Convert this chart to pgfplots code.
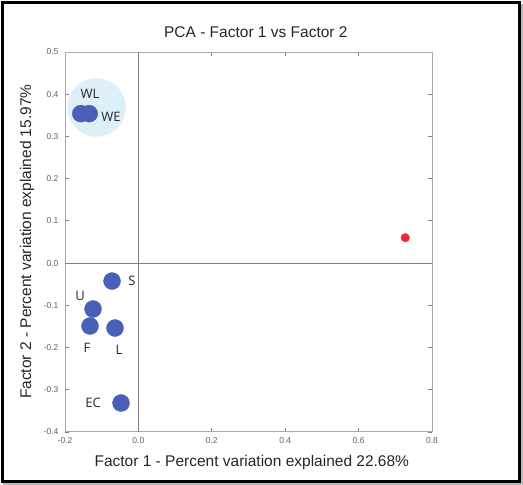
\documentclass[border=0pt]{standalone}
\usepackage{pgfplots}
\pgfplotsset{compat=1.18}
\usepackage{fontspec}
\setmainfont{Liberation Sans}
\newfontfamily\labfont{Open Sans}
\definecolor{dotblue}{HTML}{4A60B8}
\definecolor{halo}{HTML}{DDF0F8}
\definecolor{dotred}{HTML}{EE2A30}
\definecolor{axgray}{HTML}{AAAAAA}
\definecolor{zerogray}{HTML}{808080}
\definecolor{ticktext}{HTML}{606060}
\begin{document}
\begin{tikzpicture}[x=1pt,y=1pt]
\path[use as bounding box] (0,0) rectangle (523,485);
\fill[gray!55] (521,0) rectangle (523,481);
\fill[gray!55] (3,0) rectangle (523,1.8);
\draw[black, line width=3.2pt] (2.6,3.4) rectangle (519.8,482.4);
\begin{axis}[
  at={(65pt,53pt)}, anchor=south west,
  scale only axis, width=367pt, height=380pt,
  xmin=-0.2, xmax=0.8, ymin=-0.4, ymax=0.5,
  xtick={-0.2,0,0.2,0.4,0.6,0.8},
  ytick={-0.4,-0.3,-0.2,-0.1,0,0.1,0.2,0.3,0.4,0.5},
  tick align=inside, major tick length=4pt,
  tick style={zerogray, line width=0.8pt},
  axis line style={axgray, line width=1pt},
  ticklabel style={font=\fontsize{8.5}{9}\selectfont, text=ticktext},
  yticklabel style={xshift=-3pt},
  xticklabel style={yshift=-2pt},
  /pgf/number format/.cd, fixed, fixed zerofill, precision=1, assume math mode=true,
  /pgfplots/.cd,
  title={PCA - Factor 1 vs Factor 2},
  title style={at={(axis description cs:0.52,1.037)}, anchor=center, font=\fontsize{15.5}{18}\selectfont, text=black!85},
  xlabel={Factor 1 - Percent variation explained 22.68\%},
  xlabel style={at={(axis description cs:0.509,-0.079)}, anchor=center, font=\fontsize{15.5}{18}\selectfont, text=black!85},
  ylabel={Factor 2 - Percent variation explained 15.97\%},
  ylabel style={at={(axis description cs:-0.1035,0.501)}, anchor=center, font=\fontsize{15.5}{18}\selectfont, text=black!85},
  clip=false,
]
\addplot[only marks, mark=*, mark size=29pt, color=halo, mark options={solid, fill=halo, draw=halo}] coordinates {(-0.114,0.3686)};
\addplot[zerogray, line width=0.8pt] coordinates {(0,-0.4) (0,0.5)};
\addplot[zerogray, line width=0.8pt] coordinates {(-0.2,0) (0.8,0)};
\addplot[only marks, mark=*, mark size=8.5pt, color=dotblue, mark options={solid, fill=dotblue, draw=dotblue}] coordinates {
  (-0.157,0.354) (-0.134,0.354)
  (-0.0718,-0.0424) (-0.1236,-0.1087) (-0.1318,-0.1490)
  (-0.0637,-0.1537) (-0.0473,-0.3314)
};
\addplot[only marks, mark=*, mark size=4.3pt, color=dotred, mark options={solid, fill=dotred, draw=dotred}] coordinates {(0.7272,0.0602)};
\coordinate (wl) at (axis cs:-0.1318,0.4005);
\coordinate (we) at (axis cs:-0.0746,0.346);
\coordinate (s) at (axis cs:-0.0173,-0.0424);
\coordinate (u) at (axis cs:-0.159,-0.0779);
\coordinate (f) at (axis cs:-0.14,-0.201);
\coordinate (l) at (axis cs:-0.0527,-0.206);
\coordinate (ec) at (axis cs:-0.1236,-0.3314);
\end{axis}
\begin{scope}[every node/.style={font=\labfont\fontsize{13}{15}\selectfont, text=black!85}]
\node at (wl) {WL};
\node at (we) {WE};
\node at (s) {S};
\node at (u) {U};
\node at (f) {F};
\node at (l) {L};
\node at (ec) {EC};
\end{scope}
\end{tikzpicture}
\end{document}
